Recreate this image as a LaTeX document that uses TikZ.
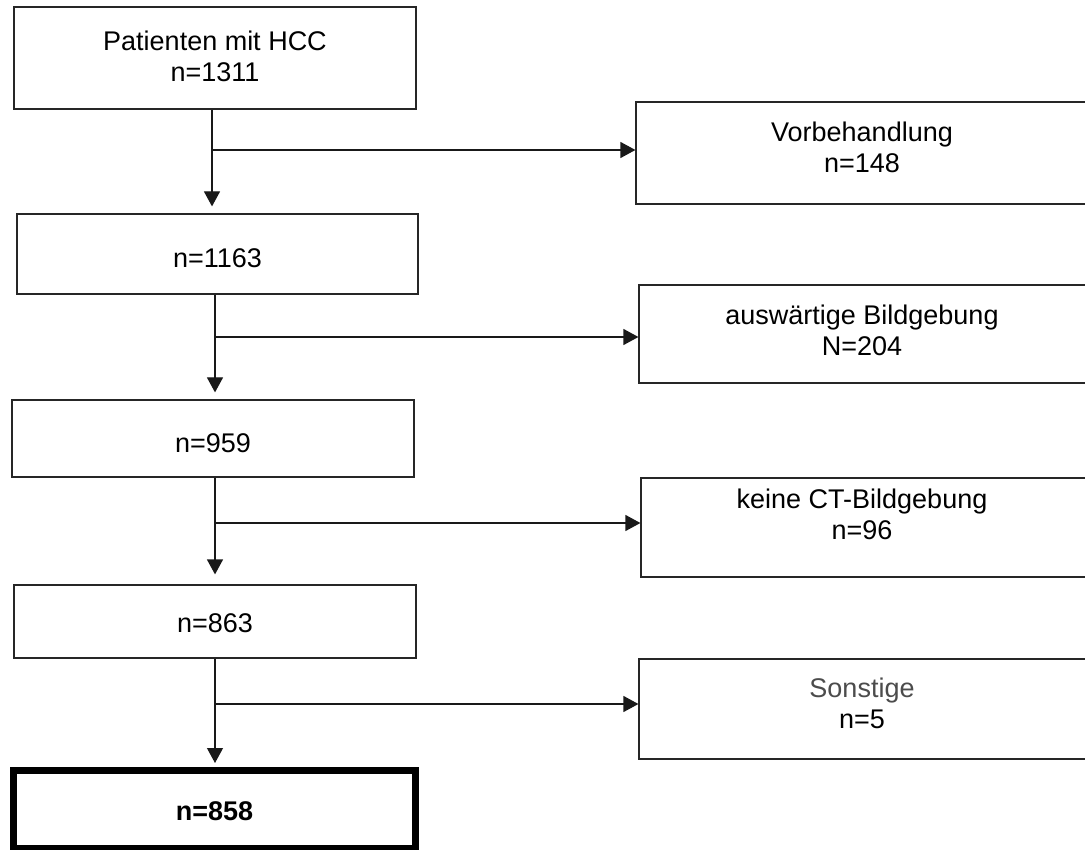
\documentclass[tikz,border=0pt]{standalone}
\usepackage{fontspec}
\setmainfont{Liberation Sans}
\usetikzlibrary{arrows.meta,calc}
\newcommand\oneline[2]{\raisebox{#1}[0pt][0pt]{#2}}
\newcommand\twoline[4]{\hspace*{#1}\raisebox{#2}[0pt][0pt]{\begin{tabular}[b]{@{}c@{}}#3\\#4\end{tabular}}}
\tikzset{
  box/.style={draw=black!85, line width=1.2pt, inner sep=0pt,
              font=\fontsize{27}{31}\selectfont, text=black},
  finalbox/.style={box, draw=black, line width=7pt, font=\fontsize{27}{31}\selectfont\bfseries},
  conn/.style={draw=black!90, line width=1.2pt},
  arr/.style={conn, -{Triangle[width=16pt,length=15pt]}},
}
\begin{document}
\begin{tikzpicture}[x=1pt,y=-1pt]
\path[use as bounding box] (0,0) rectangle (1085,850);
\clip (0,0) rectangle (1085,850);
\fill[white] (0,0) rectangle (1085,850);
% main column
\node[box, minimum width=402pt, minimum height=102pt] (b1) at (215,58) {\twoline{0pt}{-23.7pt}{Patienten mit HCC}{n=1311}};
\node[box, minimum width=401pt, minimum height=80pt] (b2) at (217.5,254) {\oneline{-13.7pt}{n=1163}};
\node[box, minimum width=402pt, minimum height=77pt] (b3) at (213,438.5) {\oneline{-14.2pt}{n=959}};
\node[box, minimum width=402pt, minimum height=73pt] (b4) at (215,621.5) {\oneline{-10.7pt}{n=863}};
\node[finalbox, minimum width=402pt, minimum height=78pt] (b5) at (214.5,809.5) {\oneline{-11.2pt}{n=858}};
% exclusions
\node[box, minimum width=484pt, minimum height=102pt] (r1) at (878,153) {\twoline{-32pt}{-19.2pt}{Vorbehandlung}{n=148}};
\node[box, minimum width=481pt, minimum height=98pt] (r2) at (879.5,334) {\twoline{-35pt}{-21.7pt}{auswärtige Bildgebung}{N=204}};
\node[box, minimum width=479pt, minimum height=99pt] (r3) at (880.5,527.5) {\twoline{-37pt}{-12.2pt}{keine CT-Bildgebung}{n=96}};
\node[box, minimum width=481pt, minimum height=100pt] (r4) at (879.5,709) {\twoline{-35pt}{-19.2pt}{\textcolor{black!70}{Sonstige}}{n=5}};
% junctions
\coordinate (j1) at (212,150);
\coordinate (j2) at (215,337);
\coordinate (j3) at (215,523);
\coordinate (j4) at (215,704);
% connectors
\draw[conn] (b1.south -| j1) -- (j1);
\draw[arr, shorten >=7pt] (j1) -- (j1 |- b2.north);
\draw[arr] (j1) -- (j1 -| r1.west);
\draw[conn] (b2.south -| j2) -- (j2);
\draw[arr, shorten >=7pt] (j2) -- (j2 |- b3.north);
\draw[arr] (j2) -- (j2 -| r2.west);
\draw[conn] (b3.south -| j3) -- (j3);
\draw[arr, shorten >=10pt] (j3) -- (j3 |- b4.north);
\draw[arr] (j3) -- (j3 -| r3.west);
\draw[conn] (b4.south -| j4) -- (j4);
\draw[arr, shorten >=4pt] (j4) -- (j4 |- b5.north);
\draw[arr] (j4) -- (j4 -| r4.west);
\end{tikzpicture}
\end{document}
